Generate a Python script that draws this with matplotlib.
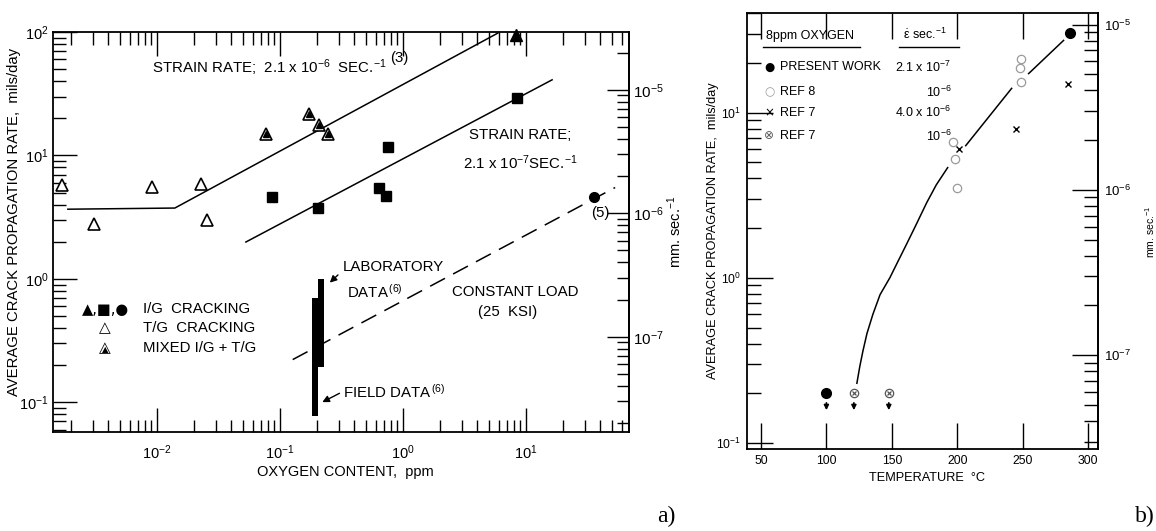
import numpy as np
import matplotlib.pyplot as plt
from matplotlib.ticker import LogLocator, NullFormatter, FixedLocator

plt.rcParams['font.family'] = ['Liberation Sans', 'DejaVu Sans']
plt.rcParams['mathtext.fontset'] = 'custom'
plt.rcParams['mathtext.rm'] = 'Liberation Sans'
plt.rcParams['mathtext.it'] = 'Liberation Sans:italic'
plt.rcParams['mathtext.bf'] = 'Liberation Sans:bold'
plt.rcParams['mathtext.sf'] = 'Liberation Sans'
plt.rcParams['mathtext.default'] = 'regular'

MM_PER_S = 0.0254 / 86400.0   # 1 mil/day in mm/s

# ---------------- panel a data ----------------
tg_x = [0.00169, 0.00307, 0.0091, 0.0228, 0.0255]
tg_y = [5.8, 2.78, 5.6, 5.9, 3.0]
mixed_x = [0.077, 0.172, 0.207, 0.245]
mixed_y = [14.8, 21.8, 17.5, 14.8]
igtri_x = [8.3]
igtri_y = [94.0]
sq_x = [0.086, 0.203, 0.755, 0.637, 0.726, 8.45]
sq_y = [4.58, 3.74, 11.8, 5.5, 4.67, 29.4]
circ_x = [35.7]
circ_y = [4.58]

sr6_x = [0.00189, 0.014, 5.9]
sr6_y = [3.67, 3.75, 98.0]
sr7_x = [0.0529, 16.3]
sr7_y = [1.99, 41.0]
cl_x = [0.127, 53.0]
cl_y = [0.222, 5.5]

field_x = [0.182, 0.204]
field_y = [0.077, 0.70]
lab_x = [0.204, 0.228]
lab_y = [0.195, 1.0]

# ---------------- panel b data ----------------
pw_x = [285.9, 100]
pw_y = [30.2, 0.2]
ref8_x = [249, 248, 248.5, 196.6, 198, 199.6]
ref8_y = [21.2, 18.5, 15.4, 6.6, 5.2, 3.5]
ref7x_x = [285, 244.7, 201]
ref7x_y = [14.8, 8.0, 6.05]
ref7o_x = [121, 147.7]
ref7o_y = [0.2, 0.2]
limit_x = [100, 121, 147.7]

curve1_x = [123.3, 125.5, 127.9, 131.0, 135.5, 141.0, 148.5, 155.0, 161.5, 168.0, 176.7, 184.0, 192.7]
curve1_y = [0.23, 0.29, 0.36, 0.46, 0.60, 0.79, 1.0, 1.27, 1.61, 2.05, 2.85, 3.65, 4.64]
curve2_x = [206.5, 241.6]
curve2_y = [6.3, 14.0]
curve3_x = [254.6, 265.3, 281.3]
curve3_y = [17.2, 20.7, 27.3]

fig = plt.figure(figsize=(11.56, 5.31), dpi=100)

# ================= panel a =================
ax = fig.add_axes([0.0458, 0.1864, 0.4983, 0.7533])
ax.set_xscale('log')
ax.set_yscale('log')
ax.set_xlim(0.00143, 68.7)
ax.set_ylim(0.0575, 100)

ax.plot(sr6_x, sr6_y, color='k', lw=1.1)
ax.plot(sr7_x, sr7_y, color='k', lw=1.1)
ax.plot(cl_x, cl_y, color='k', lw=1.1, dashes=(11, 6))

ax.fill([field_x[0], field_x[1], field_x[1], field_x[0]],
        [field_y[0], field_y[0], field_y[1], field_y[1]], color='k', lw=0)
ax.fill([lab_x[0], lab_x[1], lab_x[1], lab_x[0]],
        [lab_y[0], lab_y[0], lab_y[1], lab_y[1]], color='k', lw=0)

ax.plot(tg_x, tg_y, ls='none', marker='^', ms=8, mfc='white', mec='k', mew=1.2)
ax.plot(mixed_x, mixed_y, ls='none', marker='^', ms=8, mfc='white', mec='k', mew=1.2)
ax.plot(mixed_x, mixed_y, ls='none', marker='^', ms=4.5, mfc='k', mec='k')
ax.plot(igtri_x, igtri_y, ls='none', marker='^', ms=8, mfc='k', mec='k', clip_on=False)
ax.plot(sq_x, sq_y, ls='none', marker='s', ms=7, mfc='k', mec='k')
ax.plot(circ_x, circ_y, ls='none', marker='o', ms=7, mfc='k', mec='k')

ax.xaxis.set_major_locator(LogLocator(10))
ax.xaxis.set_minor_locator(LogLocator(10, subs=np.arange(2, 10)))
ax.yaxis.set_minor_locator(LogLocator(10, subs=np.arange(2, 10)))
ax.xaxis.set_minor_formatter(NullFormatter())
ax.yaxis.set_minor_formatter(NullFormatter())
ax.tick_params(which='both', direction='in', top=True, right=False, colors='k')
ax.tick_params(which='major', length=17, width=1.0, labelsize=10.5)
ax.tick_params(which='minor', length=9, width=1.0)
ax.tick_params(axis='x', which='major', pad=8)
ax.tick_params(axis='y', which='major', pad=3)
for s in ax.spines.values():
    s.set_linewidth(1.3)

sec = ax.secondary_yaxis('right', functions=(lambda y: y * MM_PER_S,
                                               lambda y: y / MM_PER_S))
sec.yaxis.set_minor_locator(LogLocator(10, subs=np.arange(2, 10)))
sec.yaxis.set_minor_formatter(NullFormatter())
sec.tick_params(which='both', direction='in')
sec.tick_params(which='major', length=16, width=1.0, labelsize=11, pad=3)
sec.tick_params(which='minor', length=9, width=1.0)
sec.spines['right'].set_linewidth(1.3)

fs_a = 10.8
ax.text(0.172, 0.91, 'STRAIN RATE;  2.1 x 10$^{-6}$  SEC.$^{-1}$', transform=ax.transAxes,
        fontsize=fs_a, va='center', ha='left')
ax.text(0.585, 0.935, '(3)', transform=ax.transAxes, fontsize=fs_a, va='center', ha='left')
ax.text(0.722, 0.7425, 'STRAIN RATE;', transform=ax.transAxes, fontsize=fs_a, va='center')
ax.text(0.712, 0.6725, '2.1 x 10$^{-7}$SEC.$^{-1}$', transform=ax.transAxes, fontsize=fs_a,
        va='center')
ax.text(0.935, 0.5475, '(5)', transform=ax.transAxes, fontsize=fs_a, va='center')
ax.text(0.503, 0.4125, 'LABORATORY', transform=ax.transAxes, fontsize=fs_a, va='center')
ax.text(0.510, 0.35, 'DATA$^{\\,(6)}$', transform=ax.transAxes, fontsize=fs_a, va='center')
ax.text(0.693, 0.35, 'CONSTANT LOAD', transform=ax.transAxes, fontsize=fs_a, va='center')
ax.text(0.738, 0.30, '(25  KSI)', transform=ax.transAxes, fontsize=fs_a, va='center')
ax.text(0.503, 0.10, 'FIELD DATA$^{\\,(6)}$', transform=ax.transAxes, fontsize=fs_a,
        va='center')
ax.annotate('', xy=(0.245, 0.9), xytext=(0.4983, 0.3975), xycoords='data',
            textcoords='axes fraction',
            arrowprops=dict(arrowstyle='-|>', color='k', lw=1.0, mutation_scale=10))
ax.annotate('', xy=(0.211, 0.098), xytext=(0.5017, 0.10), xycoords='data',
            textcoords='axes fraction',
            arrowprops=dict(arrowstyle='-|>', color='k', lw=1.0, mutation_scale=10))

# legend of panel a
ax.text(0.05, 0.3075, '\u25b2,\u25a0,\u25cf', transform=ax.transAxes, fontsize=10.5,
        va='center', family='DejaVu Sans')
ax.text(0.156, 0.3075, 'I/G  CRACKING', transform=ax.transAxes, fontsize=fs_a, va='center')
ax.text(0.09, 0.26, '\u25b3', transform=ax.transAxes, fontsize=11, va='center', ha='center',
        family='DejaVu Sans')
ax.text(0.156, 0.26, 'T/G  CRACKING', transform=ax.transAxes, fontsize=fs_a, va='center')
ax.text(0.09, 0.21, '\u25b3', transform=ax.transAxes, fontsize=11, va='center', ha='center',
        family='DejaVu Sans')
ax.text(0.09, 0.206, '\u25b2', transform=ax.transAxes, fontsize=6, va='center', ha='center',
        family='DejaVu Sans')
ax.text(0.156, 0.21, 'MIXED I/G + T/G', transform=ax.transAxes, fontsize=fs_a, va='center')

fig.text(0.0125, 0.582, 'AVERAGE CRACK PROPAGATION RATE,  mils/day', rotation=90,
         fontsize=10.7, ha='center', va='center')
fig.text(0.299, 0.111, 'OXYGEN CONTENT,  ppm', fontsize=10.5, ha='center', va='center')
fig.text(0.584, 0.563, 'mm. sec.$^{-1}$', rotation=90, fontsize=10.5, ha='center',
         va='center')
fig.text(0.576, 0.028, 'a)', fontsize=17, ha='center', va='center',
         family='Liberation Serif')

# ================= panel b =================
bx = fig.add_axes([0.6462, 0.1544, 0.3036, 0.8211])
bx.set_yscale('log')
bx.set_xlim(39.3, 307.6)
bx.set_ylim(0.092, 40)

bx.plot(curve1_x, curve1_y, color='k', lw=1.1)
bx.plot(curve2_x, curve2_y, color='k', lw=1.1)
bx.plot(curve3_x, curve3_y, color='k', lw=1.1)

bx.plot(pw_x, pw_y, ls='none', marker='o', ms=7, mfc='k', mec='k')
bx.plot(ref8_x, ref8_y, ls='none', marker='o', ms=6, mfc='none', mec='#9a9a9a', mew=0.9)
bx.plot(ref7x_x, ref7x_y, ls='none', marker='x', ms=4.5, mec='k', mew=1.0)
bx.plot(ref7o_x, ref7o_y, ls='none', marker='o', ms=6, mfc='none', mec='#555555', mew=0.9)
bx.plot(ref7o_x, ref7o_y, ls='none', marker='x', ms=3.5, mec='#555555', mew=0.9)
for xv in limit_x:
    bx.annotate('', xy=(xv, 0.152), xytext=(xv, 0.182),
                arrowprops=dict(arrowstyle='-|>', color='k', lw=1.2, mutation_scale=7))

bx.xaxis.set_major_locator(FixedLocator([50, 100, 150, 200, 250, 300]))
bx.yaxis.set_minor_locator(LogLocator(10, subs=np.arange(2, 10)))
bx.yaxis.set_minor_formatter(NullFormatter())
bx.tick_params(which='both', direction='in', top=True, right=False, colors='k')
bx.tick_params(which='major', length=19, width=1.0, labelsize=8.8)
bx.tick_params(which='minor', length=10, width=1.0)
bx.tick_params(axis='x', pad=4)
bx.tick_params(axis='y', pad=4)
for s in bx.spines.values():
    s.set_linewidth(1.3)

sec2 = bx.secondary_yaxis('right', functions=(lambda y: y * MM_PER_S,
                                                lambda y: y / MM_PER_S))
sec2.yaxis.set_minor_locator(LogLocator(10, subs=np.arange(2, 10)))
sec2.yaxis.set_minor_formatter(NullFormatter())
sec2.tick_params(which='both', direction='in')
sec2.tick_params(which='major', length=19, width=1.0, labelsize=9.5, pad=4)
sec2.tick_params(which='minor', length=10, width=1.0)
sec2.spines['right'].set_linewidth(1.3)

# legend of panel b
fs_b = 9.0
bx.text(0.054, 0.947, '8ppm OXYGEN', transform=bx.transAxes, fontsize=fs_b, va='center')
bx.plot([0.0456, 0.322], [0.922, 0.922], transform=bx.transAxes, color='k', lw=1.0)
bx.text(0.444, 0.95, '$\\dot{\\epsilon}$ sec.$^{-1}$', transform=bx.transAxes, fontsize=fs_b,
        va='center')
bx.plot([0.433, 0.604], [0.922, 0.922], transform=bx.transAxes, color='k', lw=1.0)

rows_y = [0.876, 0.819, 0.771, 0.718]
row_names = ['PRESENT WORK', 'REF 8', 'REF 7', 'REF 7']
row_rates = ['2.1 x 10$^{-7}$', '10$^{-6}$', '4.0 x 10$^{-6}$', '10$^{-6}$']
row_syms = ['\u25cf', '\u25cb', '\u00d7', '\u2297']
row_cols = ['k', '#9a9a9a', 'k', '#555555']
for yy, nm, rt, sy, cc in zip(rows_y, row_names, row_rates, row_syms, row_cols):
    bx.text(0.063, yy, sy, transform=bx.transAxes, fontsize=8.5, va='center', ha='center',
            color=cc, family='DejaVu Sans')
    bx.text(0.094, yy, nm, transform=bx.transAxes, fontsize=fs_b, va='center')
    bx.text(0.582, yy, rt, transform=bx.transAxes, fontsize=fs_b, va='center', ha='right')

fig.text(0.6165, 0.565, 'AVERAGE CRACK PROPAGATION RATE,  mils/day', rotation=90,
         fontsize=9.2, ha='center', va='center')
fig.text(0.802, 0.0998, 'TEMPERATURE  \u00b0C', fontsize=9.2, ha='center', va='center')
fig.text(0.9948, 0.563, 'mm. sec.$^{-1}$', rotation=90, fontsize=7.5, ha='center',
         va='center')
fig.text(0.990, 0.028, 'b)', fontsize=17, ha='center', va='center',
         family='Liberation Serif')

fig.savefig('out.png', dpi=100)
